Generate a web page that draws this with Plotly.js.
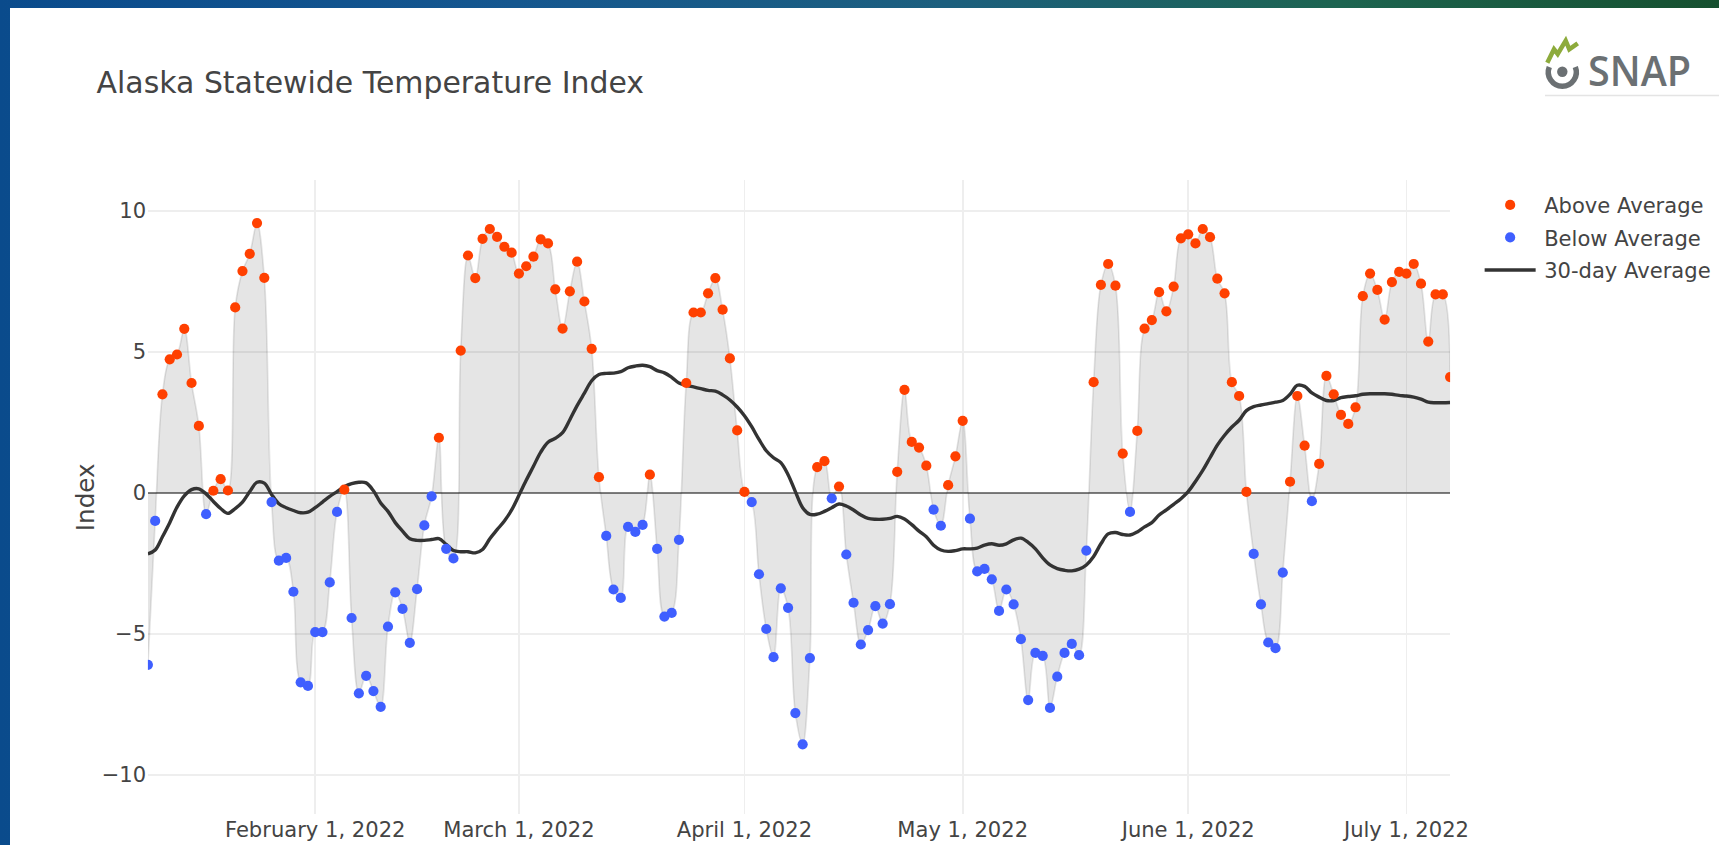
<!DOCTYPE html>
<html>
<head>
<meta charset="utf-8">
<script src="https://cdn.plot.ly/plotly-3.0.1.min.js"></script>
<style>
html, body { margin:0; padding:0; width:1719px; height:845px; overflow:hidden; }
body {
  background:
    linear-gradient(90deg, #0a4b8c 0%, #15578f 30%, #1c5f7e 55%, #1d6450 78%, #16502f 100%);
  position:relative;
}
#card { position:absolute; left:10px; top:8px; right:0; bottom:0; background:#ffffff; }
#wrap { position:absolute; left:0; top:0; width:1011px; height:497px; transform:scale(1.7); transform-origin:0 0; }
#chart { width:1011px; height:497px; }
#logo { position:absolute; left:0; top:0; }
</style>
</head>
<body>
<div id="card"></div>
<div id="wrap"><div id="chart"></div></div>
<svg id="logo" width="1719" height="110" xmlns="http://www.w3.org/2000/svg">
  <line x1="1545" y1="95.5" x2="1719" y2="95.5" stroke="#e4e4e4" stroke-width="1.5"/>
  <path d="M1549.3 67.0 A14 14 0 1 0 1575.3 67.0" fill="none" stroke="#6b7073" stroke-width="5.5"/>
  <circle cx="1562.3" cy="71.8" r="5.2" fill="#6b7073"/>
  <polyline points="1547.3,62.7 1554,49.3 1557.7,54 1565.7,40.7 1569.3,49.3 1577.7,43.3" fill="none" stroke="#8dab3c" stroke-width="4.5" stroke-linejoin="miter"/>
  <text x="1588" y="85.5" font-family="Open Sans, sans-serif" font-weight="600" font-size="42" fill="#6b7073" textLength="103" lengthAdjust="spacingAndGlyphs">SNAP</text>
</svg>
<script>
// ---- data ----
const START_DATE = [2022, 0, 9]; // first day of the daily series (Jan 9, 2022)

const indexValues = [
  -6.09, -0.99, 3.50, 4.74, 4.91, 5.82, 3.90, 2.38, -0.75, 0.08,
  0.49, 0.09, 6.58, 7.87, 8.48, 9.57, 7.63, -0.32, -2.40, -2.30,
  -3.50, -6.71, -6.84, -4.93, -4.93, -3.17, -0.67, 0.12, -4.43, -7.10,
  -6.48, -7.02, -7.58, -4.74, -3.52, -4.11, -5.31, -3.41, -1.15, -0.12,
  1.96, -1.98, -2.32, 5.05, 8.42, 7.62, 9.01, 9.36, 9.08, 8.73,
  8.52, 7.78, 8.04, 8.38, 8.99, 8.85, 7.22, 5.83, 7.15, 8.20,
  6.79, 5.11, 0.56, -1.52, -3.42, -3.72, -1.20, -1.38, -1.13, 0.65,
  -1.98, -4.38, -4.25, -1.66, 3.90, 6.40, 6.40, 7.08, 7.62, 6.50,
  4.77, 2.22, 0.04, -0.32, -2.88, -4.82, -5.82, -3.38, -4.07, -7.80,
  -8.91, -5.85, 0.92, 1.13, -0.19, 0.23, -2.18, -3.89, -5.37, -4.86,
  -4.01, -4.63, -3.94, 0.75, 3.66, 1.81, 1.61, 0.97, -0.59, -1.16,
  0.28, 1.30, 2.56, -0.91, -2.78, -2.69, -3.06, -4.18, -3.42, -3.95,
  -5.18, -7.34, -5.67, -5.77, -7.62, -6.51, -5.67, -5.35, -5.75, -2.04,
  3.93, 7.38, 8.12, 7.35, 1.40, -0.67, 2.20, 5.83, 6.13, 7.12,
  6.44, 7.32, 9.03, 9.17, 8.85, 9.36, 9.07, 7.60, 7.08, 3.93,
  3.44, 0.04, -2.16, -3.95, -5.30, -5.50, -2.82, 0.40, 3.44, 1.68,
  -0.29, 1.03, 4.15, 3.50, 2.77, 2.45, 3.04, 6.98, 7.78, 7.20,
  6.15, 7.48, 7.84, 7.78, 8.12, 7.42, 5.37, 7.04, 7.04, 4.11
];

const avgValues = [
  -2.16, -2.02, -1.55, -1.05, -0.50, -0.10, 0.12, 0.15, -0.03, -0.30,
  -0.55, -0.72, -0.55, -0.32, 0.05, 0.38, 0.35, -0.05, -0.38, -0.52,
  -0.62, -0.70, -0.68, -0.52, -0.32, -0.12, 0.05, 0.22, 0.33, 0.38,
  0.36, 0.08, -0.35, -0.65, -1.05, -1.35, -1.62, -1.68, -1.68, -1.65,
  -1.62, -1.82, -2.04, -2.08, -2.08, -2.12, -2.00, -1.62, -1.30, -0.99,
  -0.60, -0.08, 0.45, 0.95, 1.45, 1.80, 1.94, 2.14, 2.60, 3.10,
  3.54, 3.98, 4.20, 4.24, 4.25, 4.30, 4.44, 4.50, 4.53, 4.48,
  4.34, 4.26, 4.10, 3.90, 3.82, 3.76, 3.70, 3.64, 3.61, 3.48,
  3.30, 3.05, 2.74, 2.35, 1.90, 1.50, 1.25, 1.08, 0.65, 0.05,
  -0.52, -0.76, -0.75, -0.65, -0.52, -0.39, -0.46, -0.60, -0.78, -0.90,
  -0.93, -0.93, -0.90, -0.83, -0.92, -1.12, -1.35, -1.55, -1.85, -2.02,
  -2.07, -2.04, -1.98, -1.98, -1.95, -1.85, -1.80, -1.85, -1.80, -1.66,
  -1.60, -1.75, -1.98, -2.30, -2.55, -2.68, -2.74, -2.76, -2.70, -2.55,
  -2.25, -1.80, -1.45, -1.40, -1.47, -1.49, -1.38, -1.20, -1.05, -0.78,
  -0.60, -0.40, -0.20, 0.05, 0.41, 0.80, 1.25, 1.70, 2.05, 2.34,
  2.58, 2.92, 3.06, 3.12, 3.17, 3.22, 3.28, 3.50, 3.82, 3.78,
  3.55, 3.40, 3.28, 3.28, 3.38, 3.42, 3.45, 3.50, 3.52, 3.52,
  3.52, 3.50, 3.46, 3.44, 3.40, 3.33, 3.22, 3.20, 3.20, 3.21
];

const seriesNames = ['Above Average', 'Below Average', '30-day Average'];
const yTickValues = [-10, -5, 0, 5, 10];

// ---- build traces ----
const dates = indexValues.map((_, i) => {
  const d = new Date(Date.UTC(START_DATE[0], START_DATE[1], START_DATE[2] + i));
  return d.toISOString().slice(0, 10);
});

const aboveX = [], aboveY = [], belowX = [], belowY = [];
indexValues.forEach((v, i) => {
  if (v >= 0) { aboveX.push(dates[i]); aboveY.push(v); }
  else { belowX.push(dates[i]); belowY.push(v); }
});

const traces = [
  {
    x: dates, y: indexValues, type: 'scatter', mode: 'lines',
    line: { shape: 'spline', color: 'rgba(0,0,0,0.1)', width: 1 },
    fill: 'tozeroy', fillcolor: 'rgba(0,0,0,0.1)',
    showlegend: false, hoverinfo: 'skip'
  },
  {
    x: dates, y: avgValues, type: 'scatter', mode: 'lines', name: seriesNames[2],
    line: { shape: 'spline', color: '#333333', width: 2 }, legendrank: 3
  },
  {
    x: aboveX, y: aboveY, type: 'scatter', mode: 'markers', name: seriesNames[0],
    marker: { color: '#ff4000', size: 6 }, legendrank: 1
  },
  {
    x: belowX, y: belowY, type: 'scatter', mode: 'markers', name: seriesNames[1],
    marker: { color: '#3f5fff', size: 6 }, legendrank: 2
  }
];

const layout = {
  width: 1011, height: 497,
  margin: { l: 87, r: 158, t: 106, b: 18, pad: 0, autoexpand: false },
  paper_bgcolor: 'rgba(0,0,0,0)',
  plot_bgcolor: '#ffffff',
  font: { family: '"DejaVu Sans", verdana, arial, sans-serif', size: 12.4, color: '#444' },
  title: {
    text: 'Alaska Statewide Temperature Index',
    x: 0.0562, xanchor: 'left', xref: 'container',
    y: 0.902, yanchor: 'middle', yref: 'container',
    font: { size: 17.6, color: '#444' }
  },
  xaxis: {
    type: 'date', range: [dates[0], dates[dates.length - 1]],
    dtick: 'M1', tick0: '2022-01-01', tickformat: '%B %-d, %Y',
    showgrid: true, gridcolor: '#eee', zeroline: false, showline: false,
    automargin: false
  },
  yaxis: {
    title: { text: 'Index', standoff: 0, font: { size: 14.5 } },
    range: [-11.39, 11.09], tickvals: yTickValues,
    showgrid: true, gridcolor: '#eee',
    zeroline: true, zerolinecolor: '#7f7f7f', zerolinewidth: 1,
    automargin: false
  },
  showlegend: true,
  legend: { font: { size: 12.4 } },
  hovermode: 'closest'
};

Plotly.newPlot('chart', traces, layout, { displayModeBar: false, responsive: false });
</script>
</body>
</html>
